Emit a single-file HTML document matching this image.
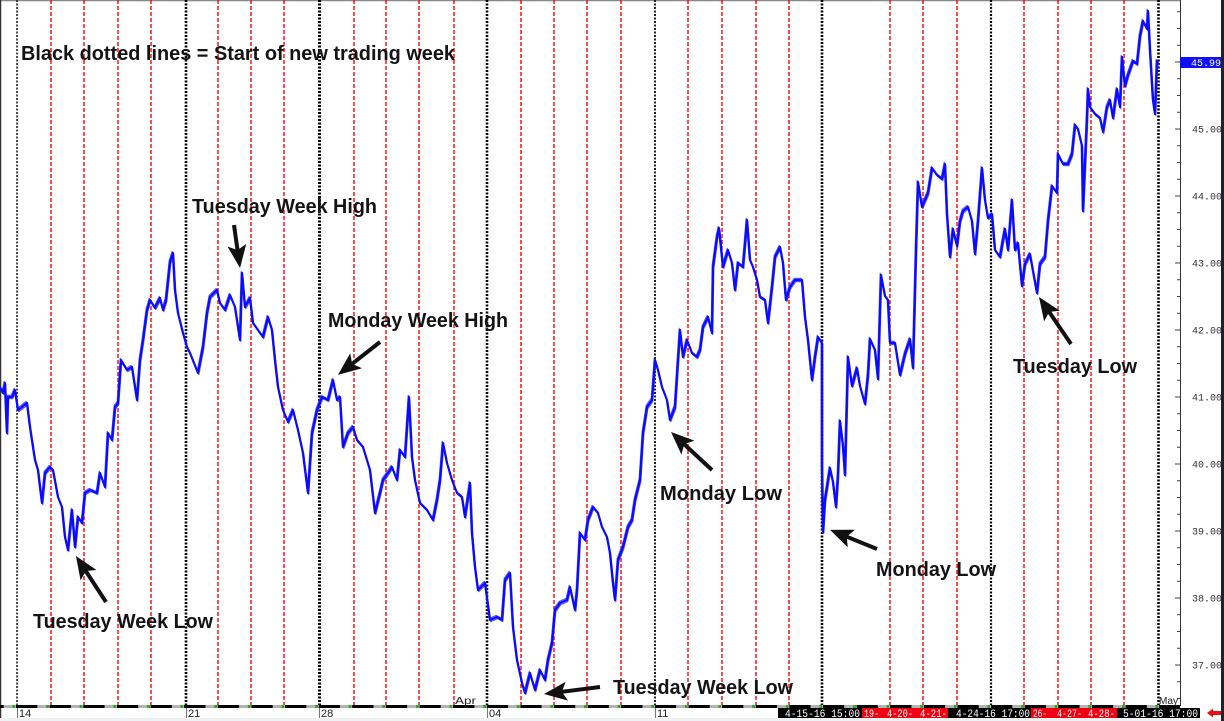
<!DOCTYPE html>
<html><head><meta charset="utf-8"><style>
html,body{margin:0;padding:0;background:#fff;}
svg{display:block;}
</style></head><body>
<svg width="1224" height="721" viewBox="0 0 1224 721" xmlns="http://www.w3.org/2000/svg" xmlns:xlink="http://www.w3.org/1999/xlink">
<defs>
<marker id="ah" markerUnits="userSpaceOnUse" markerWidth="40" markerHeight="40" viewBox="-20 -20 40 40" refX="0" refY="0" orient="auto" overflow="visible">
<path d="M14,0 L-9,-9.5 L-4,0 L-9,9.5 Z" fill="#111"/>
</marker>
<pattern id="bar" patternUnits="userSpaceOnUse" x="12.5" y="705" width="33.62" height="3">
<rect x="0" y="0" width="3" height="3" fill="#22b022"/>
<rect x="3.5" y="0" width="21.5" height="3" fill="#000"/>
<rect x="25" y="0" width="8.62" height="3" fill="#b4b4b4"/>
</pattern>
<clipPath id="axclip"><rect x="1180" y="0" width="41" height="721"/></clipPath>
<polyline id="px" fill="none" stroke-linejoin="round" points="0,387 3,393 5,383 7,433 8,397 12,397 15,390 18,410 22,407 27,403 30,427 33,447 35,460 38,470 42,503 45,473 50,467 53,470 58,497 62,507 65,537 68,550 72,510 75,547 78,517 82,523 85,493 90,490 97,493 100,473 105,487 108,433 112,440 115,407 118,403 121,360 127,370 132,367 137,400 140,360 143,340 147,310 150,300 155,308 160,298 163,310 166,300 170,262 173,253 175,290 178,313 183,333 187,347 190,353 198,373 203,347 207,313 210,297 217,290 220,303 225,310 230,295 235,307 240,340 242,273 245,307 250,298 253,323 258,330 263,337 268,317 272,330 275,360 278,387 283,410 288,422 293,410 298,430 303,453 308,493 312,433 317,410 322,397 328,400 333,380 337,400 340,397 343,447 348,433 353,427 357,440 363,447 370,470 375,513 380,493 383,480 388,473 392,467 397,480 400,450 405,457 409,397 412,457 415,480 420,503 427,510 433,520 437,500 440,480 443,443 447,463 452,480 457,493 462,497 465,517 470,483 472,533 475,567 478,590 485,583 490,620 497,617 502,620 505,580 510,573 513,627 517,660 522,683 525,693 530,673 535,690 540,670 545,680 548,660 552,643 555,610 560,603 567,600 570,587 575,610 577,590 580,533 585,540 588,520 593,507 598,513 602,527 607,537 610,553 613,583 615,600 618,560 623,547 628,527 632,520 635,500 640,480 643,433 647,407 652,400 655,360 658,370 662,387 667,400 670,420 675,407 678,360 680,330 683,357 687,340 692,353 697,357 700,350 703,327 708,317 712,333 713,267 717,237 719,228 723,267 728,250 732,263 735,290 738,263 743,267 747,220 750,260 753,267 757,280 760,297 765,300 768,323 772,287 775,257 780,247 783,263 786,300 790,287 795,280 802,280 805,317 808,340 812,380 815,357 818,337 822,343 822,464 823,532 825,500 830,468 833,482 836,507 838,475 840,421 843,446 845,475 848,357 852,386 857,368 860,386 865,404 868,375 870,339 875,350 878,379 881,275 885,296 888,300 890,343 895,343 900,375 905,354 910,339 913,368 916,250 918,182 922,207 925,200 928,193 932,168 937,175 942,179 945,164 947,214 950,257 953,229 957,246 960,221 963,211 968,207 972,221 975,254 978,221 982,168 985,200 988,218 992,214 995,250 1000,257 1005,229 1008,250 1012,200 1015,250 1018,243 1022,286 1025,264 1030,254 1033,271 1037,293 1040,264 1045,257 1048,221 1052,186 1057,193 1058,154 1063,164 1068,164 1072,154 1075,125 1078,129 1082,146 1083,211 1087,118 1088,89 1090,107 1095,114 1100,118 1103,132 1107,107 1110,100 1113,118 1117,89 1120,107 1122,57 1125,86 1128,75 1133,61 1137,64 1140,36 1143,21 1147,29 1148,11 1150,50 1153,100 1155,114 1157,61 1158,64"/>
</defs>
<rect x="0" y="0" width="1224" height="721" fill="#fff"/>
<!-- borders -->
<line x1="0" y1="0.5" x2="1180" y2="0.5" stroke="#888" stroke-width="1.5"/>
<line x1="0.5" y1="0" x2="0.5" y2="718" stroke="#333" stroke-width="1.5"/>
<!-- red dashed day lines -->
<g stroke="#ff0000" stroke-width="1.4" stroke-dasharray="4,2" fill="none">
<line x1="51" y1="0" x2="51" y2="705"/><line x1="84" y1="0" x2="84" y2="705"/><line x1="118" y1="0" x2="118" y2="705"/><line x1="151" y1="0" x2="151" y2="705"/>
<line x1="218" y1="0" x2="218" y2="705"/><line x1="251" y1="0" x2="251" y2="705"/><line x1="284" y1="0" x2="284" y2="705"/>
<line x1="354" y1="0" x2="354" y2="705"/><line x1="386" y1="0" x2="386" y2="705"/><line x1="419" y1="0" x2="419" y2="705"/><line x1="454" y1="0" x2="454" y2="705"/>
<line x1="521" y1="0" x2="521" y2="705"/><line x1="554" y1="0" x2="554" y2="705"/><line x1="587" y1="0" x2="587" y2="705"/><line x1="621" y1="0" x2="621" y2="705"/>
<line x1="688" y1="0" x2="688" y2="705"/><line x1="722" y1="0" x2="722" y2="705"/><line x1="756" y1="0" x2="756" y2="705"/><line x1="789" y1="0" x2="789" y2="705"/>
<line x1="890" y1="0" x2="890" y2="705"/><line x1="923" y1="0" x2="923" y2="705"/><line x1="957" y1="0" x2="957" y2="705"/>
<line x1="1024" y1="0" x2="1024" y2="705"/><line x1="1058" y1="0" x2="1058" y2="705"/><line x1="1091" y1="0" x2="1091" y2="705"/><line x1="1124" y1="0" x2="1124" y2="705"/>
</g>
<!-- black dotted week lines -->
<g stroke="#000" fill="none" stroke-dasharray="2,1.5">
<line x1="17" y1="0" x2="17" y2="705" stroke-width="1.6" stroke="#222"/>
<line x1="186" y1="0" x2="186" y2="705" stroke-width="2.6"/>
<line x1="319.5" y1="0" x2="319.5" y2="705" stroke-width="3"/>
<line x1="487" y1="0" x2="487" y2="705" stroke-width="2.6"/>
<line x1="655" y1="0" x2="655" y2="705" stroke-width="2" stroke="#222"/>
<line x1="822" y1="0" x2="822" y2="705" stroke-width="2.6"/>
<line x1="991" y1="0" x2="991" y2="705" stroke-width="2.2"/>
<line x1="1158.5" y1="0" x2="1158.5" y2="705" stroke-width="2.6"/>
</g>
<!-- price series -->
<use xlink:href="#px" href="#px" transform="translate(0.8,1.6)" stroke="#3a3aff" stroke-width="1.2" opacity="0.85"/>
<use xlink:href="#px" href="#px" transform="translate(-0.8,-1.6)" stroke="#3a3aff" stroke-width="1.2" opacity="0.85"/>
<use xlink:href="#px" href="#px" stroke="#0a0aff" stroke-width="2.2"/>
<!-- annotations -->
<g font-family="Liberation Sans, Arial, sans-serif" font-weight="bold" font-size="20" fill="#141414">
<text x="21" y="60" textLength="434" lengthAdjust="spacingAndGlyphs">Black dotted lines = Start of new trading week</text>
<text x="192" y="213" textLength="185" lengthAdjust="spacingAndGlyphs">Tuesday Week High</text>
<text x="328" y="327" textLength="180" lengthAdjust="spacingAndGlyphs">Monday Week High</text>
<text x="33" y="628" textLength="180" lengthAdjust="spacingAndGlyphs">Tuesday Week Low</text>
<text x="613" y="694" textLength="180" lengthAdjust="spacingAndGlyphs">Tuesday Week Low</text>
<text x="660" y="500" textLength="122" lengthAdjust="spacingAndGlyphs">Monday Low</text>
<text x="876" y="576" textLength="120" lengthAdjust="spacingAndGlyphs">Monday Low</text>
<text x="1013" y="373" textLength="124" lengthAdjust="spacingAndGlyphs">Tuesday Low</text>
</g>
<g stroke="#111" stroke-width="4" fill="none" marker-end="url(#ah)">
<line x1="106" y1="602" x2="83.6" y2="567.7"/>
<line x1="234" y1="225" x2="238.1" y2="254.1"/>
<line x1="380" y1="342" x2="349" y2="366.3"/>
<line x1="712" y1="470" x2="681.3" y2="441.5"/>
<line x1="600" y1="687" x2="557.9" y2="692.3"/>
<line x1="877" y1="549" x2="843" y2="535.2"/>
<line x1="1071" y1="344" x2="1046.9" y2="308.6"/>
</g>
<!-- right price axis -->
<line x1="1180.5" y1="0" x2="1180.5" y2="706" stroke="#333" stroke-width="1"/>
<path stroke="#444" stroke-width="1" fill="none" d="M1177,11.75H1180M1177,28.5H1180M1177,45.25H1180M1175,62H1180M1177,78.75H1180M1177,95.5H1180M1177,112.25H1180M1175,129H1180M1177,145.75H1180M1177,162.5H1180M1177,179.25H1180M1175,196H1180M1177,212.75H1180M1177,229.5H1180M1177,246.25H1180M1175,263H1180M1177,279.75H1180M1177,296.5H1180M1177,313.25H1180M1175,330H1180M1177,346.75H1180M1177,363.5H1180M1177,380.25H1180M1175,397H1180M1177,413.75H1180M1177,430.5H1180M1177,447.25H1180M1175,464H1180M1177,480.75H1180M1177,497.5H1180M1177,514.25H1180M1175,531H1180M1177,547.75H1180M1177,564.5H1180M1177,581.25H1180M1175,598H1180M1177,614.75H1180M1177,631.5H1180M1177,648.25H1180M1175,665H1180M1177,681.75H1180M1177,698.5H1180"/>
<g clip-path="url(#axclip)" font-family="Liberation Mono, monospace" font-size="10" fill="#333">
<text x="1192" y="132.5">45.00</text>
<text x="1192" y="199.5">44.00</text>
<text x="1192" y="266.5">43.00</text>
<text x="1192" y="333.5">42.00</text>
<text x="1192" y="400.5">41.00</text>
<text x="1192" y="467.5">40.00</text>
<text x="1192" y="534.5">39.00</text>
<text x="1192" y="601.5">38.00</text>
<text x="1192" y="668.5">37.00</text>
<rect x="1180" y="57" width="41" height="11" fill="#1010ff"/>
<text x="1191" y="66" fill="#fff">45.99</text>
</g>
<!-- bottom axis -->
<rect x="0" y="705" width="1180" height="3" fill="url(#bar)"/>
<g stroke="#777" stroke-width="1">
<line x1="17.5" y1="708" x2="17.5" y2="718"/>
<line x1="186.5" y1="708" x2="186.5" y2="718"/>
<line x1="319.5" y1="708" x2="319.5" y2="718"/>
<line x1="487.5" y1="708" x2="487.5" y2="718"/>
<line x1="655.5" y1="708" x2="655.5" y2="718"/>
</g>
<g font-family="Liberation Sans, Arial, sans-serif" font-size="11" fill="#222">
<text x="19" y="717">14</text>
<text x="188" y="717">21</text>
<text x="321" y="717">28</text>
<text x="489" y="717">04</text>
<text x="657" y="717">11</text>
<text x="455" y="704" font-size="10" textLength="21" lengthAdjust="spacingAndGlyphs">Apr</text>
<text x="1159" y="704" font-size="10" textLength="19" lengthAdjust="spacingAndGlyphs">May</text>
</g>
<rect x="778" y="708" width="84" height="10" fill="#000"/>
<rect x="862" y="708" width="86" height="10" fill="#f00010"/>
<rect x="948" y="708" width="83" height="10" fill="#000"/>
<rect x="1031" y="708" width="86" height="10" fill="#f00010"/>
<rect x="1117" y="708" width="83" height="10" fill="#000"/>
<g font-family="Liberation Mono, monospace" font-size="11" fill="#fff">
<text x="785" y="717" textLength="75" lengthAdjust="spacingAndGlyphs">4-15-16 15:00</text>
<text x="864" y="717" textLength="15" lengthAdjust="spacingAndGlyphs">19-</text>
<text x="887" y="717" textLength="26" lengthAdjust="spacingAndGlyphs">4-20-</text>
<text x="920" y="717" textLength="27" lengthAdjust="spacingAndGlyphs">4-21-</text>
<text x="956" y="717" textLength="74" lengthAdjust="spacingAndGlyphs">4-24-16 17:00</text>
<text x="1033" y="717" textLength="14" lengthAdjust="spacingAndGlyphs">26-</text>
<text x="1057" y="717" textLength="25" lengthAdjust="spacingAndGlyphs">4-27-</text>
<text x="1088" y="717" textLength="27" lengthAdjust="spacingAndGlyphs">4-28-</text>
<text x="1123" y="717" textLength="75" lengthAdjust="spacingAndGlyphs">5-01-16 17:00</text>
</g>
<rect x="0" y="718" width="1221" height="3" fill="#eef0f2"/>
<path d="M1207,713 L1213,708.5 L1213,711 L1221,711 L1221,715 L1213,715 L1213,717.5 Z" fill="#e81010"/>
<rect x="1221" y="0" width="3" height="721" fill="#1c2330"/>
</svg>
</body></html>
